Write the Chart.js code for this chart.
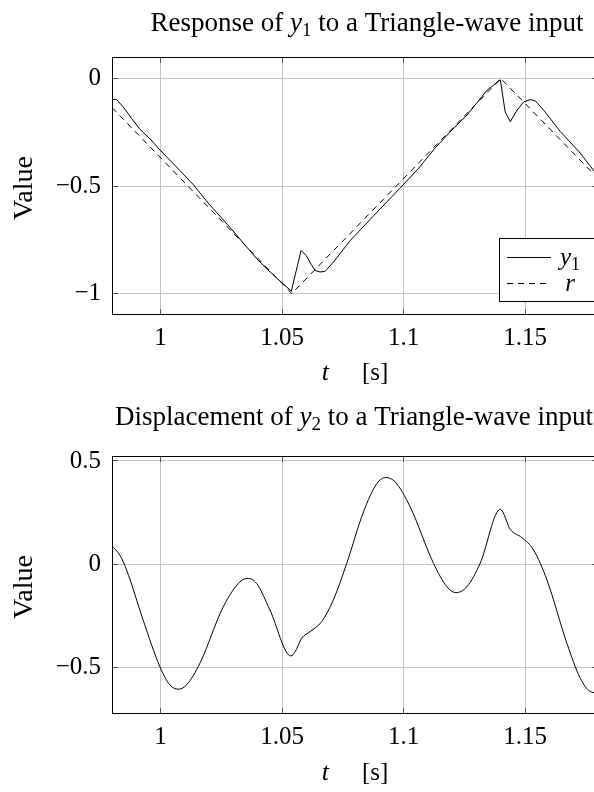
<!DOCTYPE html>
<html><head><meta charset="utf-8">
<script src="https://cdn.jsdelivr.net/npm/chart.js@4.4.1/dist/chart.umd.min.js"></script>
<style>
html,body{margin:0;padding:0;background:#fff;overflow:hidden;width:594px;height:792px;}
#c1{position:absolute;left:0;top:0;}
#c2{position:absolute;left:0;top:399px;}
</style></head><body>
<canvas id="c1" width="600" height="396"></canvas>
<canvas id="c2" width="600" height="393"></canvas>
<script>
// ---------- data ----------
const xTicks = [1, 1.05, 1.1, 1.15];
const yTicksTop = [-1, -0.5, 0];
const yTicksBottom = [-0.5, 0, 0.5];

const tY1 = [0.980, 0.9819, 0.9846, 0.9880, 0.9915, 0.9960, 0.9997, 1.0060, 1.0134, 1.0200,
             1.0286, 1.0340, 1.0396, 1.0460, 1.0538, 1.0578, 1.0599, 1.0620, 1.0636, 1.0656,
             1.0677, 1.0711, 1.0780, 1.0876, 1.0993, 1.1060, 1.1123, 1.1190, 1.1261, 1.1343,
             1.1398, 1.1418, 1.1439, 1.1467, 1.1494, 1.1521, 1.1542, 1.1576, 1.1645, 1.1727,
             1.1785, 1.180];
const y1Values = [-0.098, -0.098, -0.132, -0.185, -0.236, -0.285, -0.332, -0.405, -0.493, -0.585,
                  -0.693, -0.765, -0.839, -0.910, -0.989, -0.800, -0.823, -0.865, -0.893, -0.900,
                  -0.897, -0.854, -0.754, -0.639, -0.501, -0.420, -0.332, -0.250, -0.170, -0.055,
                  -0.006, -0.155, -0.201, -0.147, -0.109, -0.098, -0.104, -0.147, -0.247, -0.347,
                  -0.432, -0.450];

const tR = [0.980, 1.054, 1.140, 1.180];
const rValues = [-0.135, -1.0, 0.0, -0.465];

const tY2 = [0.980, 0.9832, 0.9860, 0.9928, 0.9997, 1.0038, 1.0073, 1.0107, 1.0162, 1.0258,
             1.0327, 1.0358, 1.0395, 1.0450, 1.0536, 1.0554, 1.0581, 1.0615, 1.0663, 1.0711,
             1.0766, 1.0835, 1.0890, 1.0927, 1.0965, 1.1027, 1.1123, 1.1178, 1.1215, 1.1261,
             1.1315, 1.1398, 1.1439, 1.1487, 1.1535, 1.1590, 1.1672, 1.1727, 1.1768, 1.180];
const y2Values = [0.088, 0.045, -0.027, -0.269, -0.495, -0.583, -0.604, -0.583, -0.478, -0.205,
                  -0.084, -0.068, -0.092, -0.221, -0.443, -0.422, -0.357, -0.326, -0.277, -0.172,
                  0.005, 0.254, 0.391, 0.420, 0.399, 0.278, 0.005, -0.108, -0.137, -0.108,
                  0.005, 0.266, 0.169, 0.129, 0.069, -0.076, -0.382, -0.551, -0.615, -0.622];

// ---------- helpers ----------
const SERIF = '"Liberation Serif", "Times New Roman", serif';
function pts(xs, ys) { return xs.map((x, i) => ({ x: x, y: ys[i] })); }
function fmt(v) { return v < 0 ? '\u2212' + String(Math.abs(v)) : String(v); }

function drawRich(ctx, parts, cx, baseline, align) {
  let w = 0;
  parts.forEach(p => {
    if (p.gap) { w += p.gap; return; }
    ctx.font = p.font; w += ctx.measureText(p.text).width;
  });
  let x = align === 'left' ? cx : cx - w / 2;
  ctx.textAlign = 'left';
  ctx.textBaseline = 'alphabetic';
  ctx.fillStyle = '#000';
  parts.forEach(p => {
    if (p.gap) { x += p.gap; return; }
    ctx.font = p.font;
    ctx.fillText(p.text, x, baseline + (p.dy || 0));
    x += ctx.measureText(p.text).width;
  });
}
function mathLabel(label, size) {
  const m = label.match(/^(\w)_(\w+)$/);
  if (m) return [
    { text: m[1], font: 'italic ' + size + 'px ' + SERIF },
    { text: m[2], font: Math.round(size * 0.7) + 'px ' + SERIF, dy: Math.round(size * 0.2) }
  ];
  return [{ text: label, font: 'italic ' + size + 'px ' + SERIF }];
}

const deco = {
  id: 'deco',
  afterDraw(chart, args, o) {
    const ctx = chart.ctx, a = chart.chartArea;
    const xs = chart.scales.x, ys = chart.scales.y;
    ctx.save();
    // inner tick marks
    ctx.strokeStyle = '#555'; ctx.lineWidth = 1;
    ctx.beginPath();
    o.xTicks.forEach(v => {
      const px = Math.round(xs.getPixelForValue(v) - 0.5) + 0.5;
      ctx.moveTo(px, a.bottom); ctx.lineTo(px, a.bottom - 6);
      ctx.moveTo(px, a.top); ctx.lineTo(px, a.top + 6);
    });
    o.yTicks.forEach(v => {
      const py = Math.round(ys.getPixelForValue(v) - 0.5) + 0.5;
      ctx.moveTo(a.left, py); ctx.lineTo(a.left + 6, py);
      ctx.moveTo(a.right, py); ctx.lineTo(a.right - 6, py);
    });
    ctx.stroke();
    // axis box
    ctx.strokeStyle = '#000'; ctx.lineWidth = 1;
    ctx.strokeRect(Math.round(a.left) + 0.5, Math.round(a.top) + 0.5,
                   Math.round(a.right - a.left), Math.round(a.bottom - a.top) - 1);
    const cx = (a.left + a.right) / 2;
    // title
    drawRich(ctx, o.title, cx + o.titleShift, o.titleBaseline);
    // x axis title
    drawRich(ctx, [
      { text: 't', font: 'italic 26px ' + SERIF },
      { gap: 33 },
      { text: '[s]', font: '25px ' + SERIF }
    ], cx, o.xTitleBaseline);
    // y axis title
    ctx.save();
    ctx.translate(32, (a.top + a.bottom) / 2 + 2);
    ctx.rotate(-Math.PI / 2);
    ctx.font = '28px ' + SERIF; ctx.fillStyle = '#000';
    ctx.textAlign = 'center'; ctx.textBaseline = 'alphabetic';
    ctx.fillText('Value', 0, 0);
    ctx.restore();
    // legend
    if (o.legend) {
      const L = a.right - 99, T = a.bottom - 77, R = a.right + 10, B = a.bottom - 14;
      ctx.fillStyle = '#fff';
      ctx.fillRect(L, T, R - L, B - T);
      ctx.strokeStyle = '#000'; ctx.lineWidth = 1;
      ctx.strokeRect(Math.round(L) + 0.5, Math.round(T) + 0.5, Math.round(R - L), Math.round(B - T));
      chart.data.datasets.forEach((ds, i) => {
        const y = Math.round(T + 19 + i * 26) + 0.5;
        ctx.beginPath();
        ctx.strokeStyle = ds.borderColor; ctx.lineWidth = ds.borderWidth;
        ctx.setLineDash(ds.borderDash || []);
        ctx.moveTo(L + 8, y); ctx.lineTo(L + 52, y);
        ctx.stroke();
        ctx.setLineDash([]);
        drawRich(ctx, mathLabel(ds.label, 25), L + 71, y + 7);
      });
    }
    ctx.restore();
  }
};

function makeChart(canvas, datasets, yMin, yMax, yTicks, o) {
  return new Chart(canvas, {
    type: 'line',
    data: { datasets: datasets },
    options: {
      responsive: false, animation: false, devicePixelRatio: 1,
      layout: { padding: { top: 57, right: 2, left: 0, bottom: 0 } },
      elements: { point: { radius: 0 } },
      plugins: { legend: { display: false }, tooltip: { enabled: false }, title: { display: false }, deco: o },
      scales: {
        x: {
          type: 'linear', min: 0.98, max: 1.18,
          afterBuildTicks: s => { s.ticks = xTicks.map(v => ({ value: v })); },
          afterFit: s => { s.height = o.xAxisHeight; },
          grid: { color: '#c4c4c4', lineWidth: 1, drawTicks: false },
          border: { display: false },
          ticks: { font: { family: SERIF, size: 25 }, color: '#000', padding: 8,
                   maxRotation: 0, autoSkip: false, callback: v => fmt(v) }
        },
        y: {
          type: 'linear', min: yMin, max: yMax,
          afterBuildTicks: s => { s.ticks = yTicks.map(v => ({ value: v })); },
          afterFit: s => { s.width = 112; },
          grid: { color: '#c4c4c4', lineWidth: 1, drawTicks: false },
          border: { display: false },
          ticks: { font: { family: SERIF, size: 25 }, color: '#000', padding: 11,
                   autoSkip: false, callback: v => fmt(v) }
        }
      }
    },
    plugins: [deco]
  });
}

function titleParts(word, sub) {
  return [
    { text: word + ' of ', font: '27px ' + SERIF },
    { text: 'y', font: 'italic 27px ' + SERIF },
    { text: sub, font: '19px ' + SERIF, dy: 5 },
    { text: ' to a Triangle-wave input', font: '27px ' + SERIF }
  ];
}

makeChart(document.getElementById('c1'), [
  { label: 'y_1', data: pts(tY1, y1Values), borderColor: '#000', borderWidth: 1, tension: 0, fill: false },
  { label: 'r', data: pts(tR, rValues), borderColor: '#000', borderWidth: 1, borderDash: [6, 5], tension: 0, fill: false }
], -1.1, 0.1, yTicksTop, {
  xTicks: xTicks, yTicks: yTicksTop, title: titleParts('Response', '1'), titleShift: 12,
  titleBaseline: 31, xTitleBaseline: 380, xAxisHeight: 81, legend: true
});

makeChart(document.getElementById('c2'), [
  { label: 'y_2', data: pts(tY2, y2Values), borderColor: '#000', borderWidth: 1, cubicInterpolationMode: 'monotone', fill: false }
], -0.724, 0.524, yTicksBottom, {
  xTicks: xTicks, yTicks: yTicksBottom, title: titleParts('Displacement', '2'), titleShift: -1,
  titleBaseline: 26, xTitleBaseline: 381, xAxisHeight: 78, legend: false
});
</script>
</body></html>
